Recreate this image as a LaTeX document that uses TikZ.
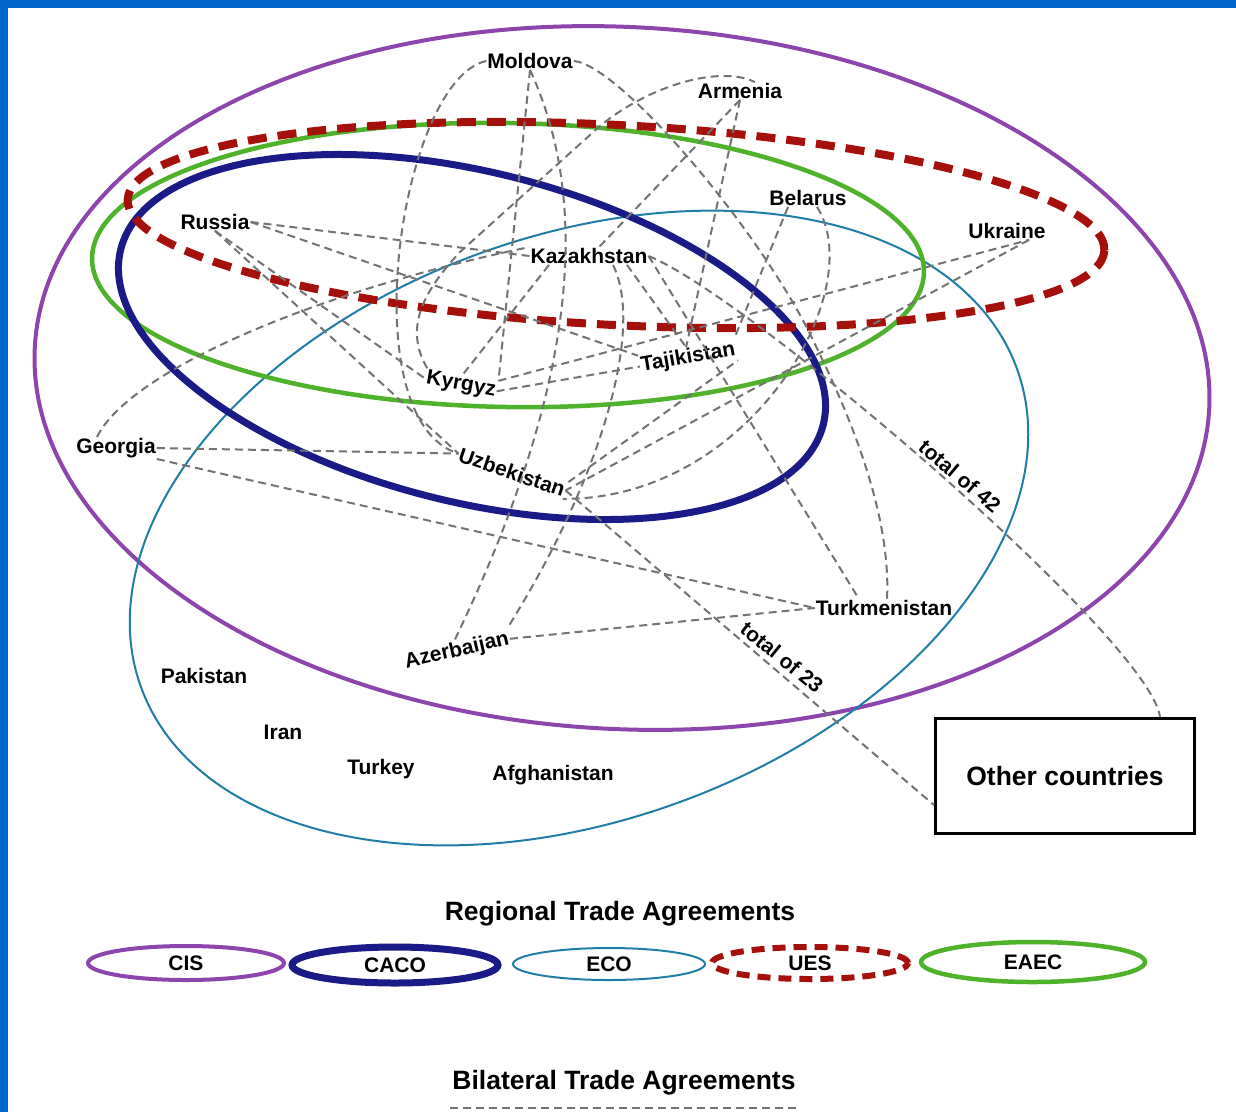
\documentclass[tikz,border=0pt]{standalone}
\usepackage{fontspec}
\setmainfont{Liberation Sans}
\usetikzlibrary{shapes.geometric}
\definecolor{slideblue}{RGB}{0,102,204}
\definecolor{cispurple}{RGB}{142,68,173}
\definecolor{caconavy}{RGB}{27,27,135}
\definecolor{ecoteal}{RGB}{32,126,166}
\definecolor{uesred}{RGB}{166,16,10}
\definecolor{eaecgreen}{RGB}{78,178,42}
\definecolor{linkgray}{RGB}{115,115,115}
\begin{document}
\begin{tikzpicture}[x=1pt,y=-1pt,
  lbl/.style={font=\fontsize{21}{24}\selectfont\bfseries, inner sep=1pt},
  big/.style={font=\fontsize{26.5}{30}\selectfont\bfseries, inner sep=1pt},
  link/.style={draw=linkgray, line width=2pt, dash pattern=on 8pt off 5pt},
  cis/.style={draw=cispurple, line width=4pt},
  caco/.style={draw=caconavy, line width=7pt},
  eco/.style={draw=ecoteal, line width=2pt},
  ues/.style={draw=uesred, line width=8pt, dash pattern=on 19pt off 11pt},
  eaec/.style={draw=eaecgreen, line width=4.5pt},
  legend/.style={ellipse, font=\fontsize{21}{24}\selectfont\bfseries, inner sep=0pt}
]
% slide background
\fill[slideblue] (0,0) rectangle (1236,1112);
\fill[white] (8,8) rectangle (1236,1112);
\useasboundingbox (0,0) rectangle (1236,1112);

% regional agreements
\draw[cis, shift={(622,378)}, rotate=-3] (0,0) ellipse [x radius=588pt, y radius=351pt];
\draw[eco, shift={(579,528)}, rotate=20] (0,0) ellipse [x radius=466pt, y radius=292pt];
\draw[eaec, shift={(508,265)}, rotate=-1] (0,0) ellipse [x radius=416pt, y radius=142pt];
\draw[caco, shift={(472,337)}, rotate=-14] (0,0) ellipse [x radius=362pt, y radius=165pt];
\draw[ues, shift={(616,225)}, rotate=-3] (0,0) ellipse [x radius=489pt, y radius=100pt];

% countries
\node[lbl] (moldova) at (530,61) {Moldova};
\node[lbl] (armenia) at (740,91) {Armenia};
\node[lbl] (belarus) at (808,198) {Belarus};
\node[lbl] (ukraine) at (1007,231) {Ukraine};
\node[lbl] (russia) at (215,222) {Russia};
\node[lbl] (kazakh) at (589,256) {Kazakhstan};
\node[lbl, rotate=10] (tajik) at (688,358) {Tajikistan};
\node[lbl, rotate=-10] (kyrgyz) at (461,385) {Kyrgyz};
\node[lbl] (georgia) at (116,448) {Georgia};
\node[lbl, rotate=-19] (uzbek) at (512,472) {Uzbekistan};
\node[lbl] (turkmen) at (884,608) {Turkmenistan};
\node[lbl, rotate=13] (azer) at (457,651) {Azerbaijan};
\node[lbl] (pakistan) at (204,676) {Pakistan};
\node[lbl] (iran) at (283,732) {Iran};
\node[lbl] (turkey) at (381,769) {Turkey};
\node[lbl] (afghan) at (553,775) {Afghanistan};
\node[big, draw, line width=3pt, minimum width=259pt, minimum height=115pt] (other) at (1065,776) {Other countries};
\node[lbl, rotate=-40] (t42) at (960,476) {total of 42};
\node[lbl, rotate=-39] (t23) at (782,657) {total of 23};
\coordinate (mbend) at (813,340);

% bilateral agreements
\draw[link] (russia.east) -- (kazakh.west);
\draw[link] (russia.east) -- (tajik.north west);
\draw[link] (russia.south) -- (kyrgyz.west);
\draw[link] (russia.south) -- (uzbek.west);
\draw[link] (moldova.west) .. controls (400,80) and (350,420) .. (uzbek.west);
\draw[link] (moldova.south) -- (kyrgyz.north east);
\draw[link] (moldova.south) .. controls (590,200) and (580,380) .. (azer.north);
\draw[link] (moldova.east) .. controls (620,65) and (760,230) .. (mbend) .. controls (834,384) and (892,500) .. ([xshift=3pt]turkmen.north);
\draw[link] ([xshift=-40pt]kazakh.south) -- (kyrgyz.north);
\draw[link] ([xshift=38pt]kazakh.south) -- (tajik.north);
\draw[link] (kazakh.east) -- ([xshift=-25pt]turkmen.north);
\draw[link] (kazakh.east) .. controls (750,297) and (1150,640) .. ([xshift=95pt]other.north);
\draw[link] ([xshift=24pt]kazakh.south) .. controls (645,330) and (600,480) .. (azer.north east);
\draw[link] (armenia.south) -- ([xshift=10pt]kazakh.north);
\draw[link] (armenia.south) -- (tajik.north);
\draw[link] (kyrgyz.north west) .. controls (405,330) and (420,295) .. (460,252) -- (600,126) .. controls (650,85) and (720,65) .. ([xshift=15pt]armenia.north);
\draw[link] ([xshift=-19pt]georgia.north) .. controls (130,370) and (320,290) .. (kazakh.north west);
\draw[link] (georgia.east) -- (uzbek.west);
\draw[link] (georgia.south east) -- (turkmen.west);
\draw[link] (azer.east) -- (turkmen.west);
\draw[link] ([xshift=9pt]belarus.south) .. controls (870,290) and (750,500) .. (uzbek.south east);
\draw[link] ([xshift=-20pt]belarus.south) -- (tajik.north east);
\draw[link] (kyrgyz.east) -- (tajik.west);
\draw[link] (kyrgyz.north east) -- ([xshift=22pt]ukraine.south);
\draw[link] ([xshift=22pt]ukraine.south) -- (uzbek.east);
\draw[link] (uzbek.north east) -- (tajik.south east);
\draw[link] (uzbek.east) -- ([yshift=30pt]other.south west);

% legend
\node[big] (rta) at (620,914) {Regional Trade Agreements};
\node[legend, cis, minimum width=196pt, minimum height=34pt] (lcis) at (186,963) {CIS};
\node[legend, caco, minimum width=206pt, minimum height=36pt] (lcaco) at (395,965) {CACO};
\node[legend, eco, minimum width=192pt, minimum height=32pt] (leco) at (609,964) {ECO};
\node[legend, draw=uesred, line width=6pt, dash pattern=on 13pt off 8pt, minimum width=196pt, minimum height=32pt] (lues) at (810,963) {UES};
\node[legend, eaec, minimum width=224pt, minimum height=40pt] (leaec) at (1033,962) {EAEC};
\node[big] (bta) at (624,1083) {Bilateral Trade Agreements};
\coordinate (bl1) at (450,1108);
\coordinate (bl2) at (796,1108);
\draw[link] (bl1) -- (bl2);
\end{tikzpicture}
\end{document}
